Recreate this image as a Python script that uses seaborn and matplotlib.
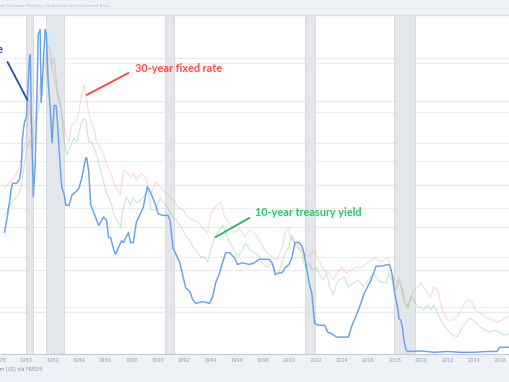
import matplotlib
matplotlib.use("Agg")
import matplotlib.pyplot as plt
import seaborn as sns
import pandas as pd

# ---- data (year, percent) ----
fed_funds = [
    (1978.34, 7.2), (1978.57, 8.2), (1978.87, 9.8), (1978.95, 10.1), (1979.25, 10.1),
    (1979.47, 10.3), (1979.62, 11.0), (1979.70, 12.7), (1979.85, 13.7), (1980.00, 14.0),
    (1980.08, 15.1), (1980.23, 17.5), (1980.30, 17.7), (1980.38, 14.0), (1980.53, 9.3),
    (1980.68, 11.3), (1980.83, 16.1), (1980.90, 18.9), (1981.05, 19.2), (1981.13, 14.9),
    (1981.28, 17.1), (1981.43, 19.2), (1981.51, 19.0), (1981.66, 16.1), (1981.81, 14.6),
    (1981.96, 12.5), (1982.11, 14.7), (1982.26, 14.7), (1982.33, 14.1), (1982.48, 12.2),
    (1982.63, 10.4), (1982.71, 9.8), (1982.86, 9.5), (1983.01, 8.8), (1983.24, 8.8),
    (1983.46, 9.4), (1983.76, 9.6), (1983.99, 9.8), (1984.21, 10.4), (1984.52, 11.6),
    (1984.59, 11.6), (1984.74, 10.8), (1984.89, 8.8), (1985.11, 8.4), (1985.35, 7.9),
    (1985.50, 7.6), (1985.87, 8.1), (1986.10, 7.9), (1986.25, 6.9), (1986.40, 6.9),
    (1986.63, 6.2), (1986.78, 5.9), (1987.00, 6.3), (1987.23, 6.7), (1987.38, 6.6),
    (1987.76, 7.2), (1987.91, 6.6), (1988.13, 6.6), (1988.36, 7.8), (1988.66, 8.3),
    (1988.89, 8.7), (1989.19, 9.9), (1989.41, 9.6), (1989.79, 8.9), (1990.02, 8.3),
    (1990.39, 8.2), (1990.77, 8.2), (1990.92, 7.9), (1991.14, 6.3), (1991.37, 5.9),
    (1991.67, 5.4), (1991.90, 4.6), (1992.12, 3.9), (1992.42, 3.7), (1992.65, 3.2),
    (1992.88, 3.0), (1993.40, 3.1), (1993.93, 3.0), (1994.16, 3.4), (1994.38, 4.2),
    (1994.68, 4.8), (1994.91, 5.4), (1995.14, 6.0), (1995.44, 6.0), (1995.81, 5.7),
    (1996.04, 5.3), (1996.42, 5.4), (1996.94, 5.3), (1997.32, 5.4), (1997.70, 5.6),
    (1998.45, 5.6), (1998.67, 5.4), (1998.83, 5.0), (1998.90, 4.7), (1999.20, 4.8),
    (1999.43, 4.8), (1999.65, 5.1), (1999.95, 5.3), (2000.18, 5.7), (2000.41, 6.6),
    (2000.71, 6.6), (2000.93, 6.4), (2001.08, 6.0), (2001.31, 5.0), (2001.54, 4.0),
    (2001.69, 3.6), (2001.91, 1.8), (2002.21, 1.7), (2002.67, 1.7), (2002.89, 1.3),
    (2003.19, 1.2), (2003.57, 1.0), (2004.47, 1.0), (2004.70, 1.6), (2005.23, 2.6),
    (2005.68, 3.6), (2006.20, 4.4), (2006.58, 5.2), (2006.96, 5.2), (2007.56, 5.3),
    (2007.71, 5.0), (2007.86, 4.4), (2007.94, 3.8), (2008.09, 3.2), (2008.24, 2.6),
    (2008.31, 2.1), (2008.46, 2.0), (2008.61, 1.4), (2008.69, 0.8), (2008.84, 0.24),
    (2008.99, 0.15), (2010.00, 0.18), (2011.00, 0.10), (2012.00, 0.15), (2013.00, 0.10),
    (2014.00, 0.10), (2015.00, 0.15), (2015.77, 0.15), (2015.95, 0.40), (2016.75, 0.40),
]

treasury_10y = [
    (1978.34, 8.11), (1978.57, 8.52), (1978.87, 8.94), (1979.32, 9.35), (1979.62, 9.88),
    (1979.85, 11.18), (1980.00, 12.07), (1980.23, 12.66), (1980.45, 12.07), (1980.68, 13.25),
    (1980.98, 14.73), (1981.20, 15.33), (1981.43, 16.51), (1981.58, 18.28), (1981.73, 18.17),
    (1981.88, 17.69), (1981.96, 17.10), (1982.11, 17.51), (1982.33, 15.74), (1982.64, 14.56),
    (1982.86, 12.66), (1983.09, 11.78), (1983.39, 12.37), (1983.61, 12.78), (1983.84, 12.54),
    (1984.14, 13.55), (1984.37, 13.96), (1984.52, 13.85), (1984.74, 12.54), (1984.97, 12.54),
    (1985.27, 11.95), (1985.50, 11.30), (1985.72, 10.71), (1986.02, 9.70), (1986.25, 9.29),
    (1986.48, 8.82), (1986.63, 8.34), (1986.85, 7.93), (1987.15, 7.51), (1987.23, 7.93),
    (1987.38, 8.70), (1987.61, 9.29), (1987.91, 8.82), (1988.13, 9.29), (1988.36, 8.94),
    (1988.66, 9.11), (1988.89, 9.29), (1989.26, 9.70), (1989.49, 8.52), (1989.79, 8.52),
    (1990.17, 9.23), (1990.39, 8.94), (1990.62, 8.82), (1990.92, 8.40), (1991.14, 8.11),
    (1991.37, 7.93), (1991.67, 7.63), (1991.90, 7.34), (1992.12, 6.92), (1992.42, 6.75),
    (1992.65, 6.33), (1992.88, 6.15), (1993.25, 5.74), (1993.55, 5.74), (1993.78, 5.44),
    (1994.01, 6.15), (1994.31, 6.92), (1994.68, 7.34), (1994.91, 7.63), (1995.14, 7.22),
    (1995.44, 6.57), (1995.81, 6.15), (1996.04, 5.74), (1996.42, 6.15), (1996.64, 6.57),
    (1997.02, 6.15), (1997.39, 5.98), (1997.77, 5.74), (1997.92, 5.38), (1998.30, 5.15),
    (1998.67, 5.38), (1998.90, 4.67), (1999.20, 4.85), (1999.43, 5.44), (1999.65, 5.98),
    (1999.95, 6.33), (2000.18, 7.04), (2000.33, 6.57), (2000.56, 6.33), (2000.93, 5.98),
    (2001.16, 5.15), (2001.46, 5.38), (2001.69, 4.97), (2002.06, 5.09), (2002.29, 4.67),
    (2002.59, 4.38), (2002.82, 4.79), (2003.04, 3.96), (2003.34, 3.49), (2003.57, 4.20),
    (2003.80, 4.38), (2004.17, 4.56), (2004.47, 3.96), (2004.85, 4.20), (2005.23, 4.38),
    (2005.60, 3.96), (2005.98, 4.38), (2006.36, 4.79), (2006.73, 4.38), (2006.96, 4.26),
    (2007.33, 4.20), (2007.56, 4.79), (2007.86, 4.20), (2008.09, 3.79), (2008.31, 4.50),
    (2008.46, 4.08), (2008.69, 3.08), (2008.99, 2.72), (2009.22, 3.37), (2009.44, 3.20),
    (2009.74, 2.78), (2009.97, 2.78), (2010.20, 2.60), (2010.50, 2.90), (2010.72, 2.60),
    (2010.95, 2.90), (2011.25, 2.43), (2011.48, 2.01), (2011.70, 1.72), (2012.00, 1.42),
    (2012.38, 1.12), (2012.76, 1.01), (2012.98, 1.42), (2013.36, 1.83), (2013.73, 2.13),
    (2014.11, 1.89), (2014.49, 1.60), (2014.86, 1.42), (2015.24, 1.30), (2015.62, 1.42),
    (2015.99, 1.24), (2016.37, 1.12), (2016.75, 1.24),
]

mortgage_30y = [
    (1978.34, 9.82), (1978.72, 10.18), (1979.10, 10.47), (1979.32, 10.77), (1979.70, 11.78),
    (1980.00, 12.66), (1980.23, 15.03), (1980.45, 12.96), (1980.68, 13.96), (1980.98, 15.62),
    (1981.20, 16.51), (1981.51, 17.69), (1981.81, 17.40), (1982.11, 16.33), (1982.33, 15.50),
    (1982.71, 14.14), (1983.01, 12.96), (1983.24, 12.54), (1983.46, 13.55), (1983.77, 13.73),
    (1983.99, 14.32), (1984.22, 15.50), (1984.37, 15.92), (1984.59, 14.91), (1984.89, 13.73),
    (1985.12, 13.37), (1985.35, 12.54), (1985.65, 12.19), (1985.87, 11.78), (1986.10, 11.18),
    (1986.40, 10.77), (1986.63, 10.18), (1986.85, 9.82), (1987.15, 9.41), (1987.38, 10.89),
    (1987.61, 10.77), (1987.91, 10.47), (1988.13, 10.71), (1988.36, 10.30), (1988.73, 10.71),
    (1989.04, 10.47), (1989.26, 9.88), (1989.49, 9.53), (1989.86, 10.18), (1990.17, 9.88),
    (1990.54, 9.59), (1990.92, 9.29), (1991.30, 8.99), (1991.52, 8.70), (1991.90, 8.52),
    (1992.27, 8.11), (1992.65, 7.93), (1993.03, 7.81), (1993.40, 7.46), (1993.78, 7.16),
    (1994.01, 8.34), (1994.38, 8.70), (1994.76, 8.99), (1995.06, 8.11), (1995.44, 7.75),
    (1995.81, 7.16), (1996.19, 7.46), (1996.57, 6.92), (1996.94, 7.34), (1997.32, 7.16),
    (1997.70, 6.75), (1998.15, 6.15), (1998.67, 5.74), (1999.05, 5.56), (1999.43, 6.33),
    (1999.65, 7.16), (1999.95, 7.51), (2000.03, 6.92), (2000.33, 6.75), (2000.71, 6.33),
    (2001.08, 5.98), (2001.46, 5.74), (2001.84, 6.15), (2002.21, 5.56), (2002.59, 4.97),
    (2002.97, 4.79), (2003.34, 4.38), (2003.57, 4.79), (2003.95, 5.15), (2004.32, 4.79),
    (2004.70, 4.97), (2005.08, 5.15), (2005.45, 5.09), (2005.98, 5.44), (2006.43, 5.68),
    (2006.96, 5.44), (2007.48, 5.74), (2007.71, 4.97), (2007.94, 4.50), (2008.24, 4.20),
    (2008.46, 4.08), (2008.69, 3.37), (2008.99, 2.78), (2009.22, 3.37), (2009.44, 3.79),
    (2009.74, 3.96), (2009.97, 4.20), (2010.20, 3.96), (2010.50, 3.61), (2010.72, 3.37),
    (2010.95, 3.96), (2011.25, 3.79), (2011.48, 3.02), (2011.70, 2.43), (2012.00, 2.01),
    (2012.38, 2.01), (2012.76, 2.19), (2013.13, 2.78), (2013.51, 3.20), (2013.89, 3.08),
    (2014.11, 2.60), (2014.49, 2.43), (2014.86, 2.19), (2015.39, 2.01), (2015.77, 1.89),
    (2016.14, 2.01), (2016.52, 2.19), (2016.75, 2.31),
]

recessions = [(1980.0, 1980.5), (1981.5, 1982.9), (1990.5, 1991.2),
              (2001.2, 2001.9), (2007.9, 2009.5)]
tick_years = list(range(1978, 2017, 2))
label_30y = "30-year fixed rate"
label_10y = "10-year treasury yield"
label_fed = "Federal funds rate"
source_text = "Sources: Freddie Mac; Board of Governors of the Federal Reserve System (US) via FRED\u00ae"
title_text = "30-Year Fixed Rate Mortgage Average in the United States, 10-Year Constant Maturity, Quoted on an Investment Basis"

def frame(pairs):
    return pd.DataFrame(pairs, columns=["year", "rate"])

df_fed = frame(fed_funds)
df_10 = frame(treasury_10y)
df_30 = frame(mortgage_30y)

sns.set_theme(style="white")
plt.rcParams["font.family"] = ["DejaVu Sans"]

W, H = 510, 382
fig = plt.figure(figsize=(W / 100, H / 100), dpi=100, facecolor="#eef2f7")
ax = fig.add_axes([0, 28 / H, 1, 339 / H])
ax.set_facecolor("white")

XMIN, XMAX = 1978.343, 2016.747
YMIN, YMAX = 0, 20.06
ax.set_xlim(XMIN, XMAX)
ax.set_ylim(YMIN, YMAX)

# grid lines (two overlaid chart grids)
for g in [2.5, 5, 7.5, 10, 12.5, 15, 17.5]:
    ax.axhline(g, color="#ebebeb", lw=0.9, zorder=0)
for g in [2.78, 5.74, 8.64, 11.42, 14.32, 17.22]:
    ax.axhline(g, color="#efefef", lw=0.9, zorder=0)

for a, b in recessions:
    ax.axvspan(a, b, facecolor="#dfe3e8", edgecolor="#d3d7dc", lw=0.7, alpha=0.85, zorder=1)

sns.lineplot(data=df_30, x="year", y="rate", ax=ax, color="#f08a8a", lw=0.8,
             alpha=0.32, estimator=None, sort=False, zorder=2)
sns.lineplot(data=df_10, x="year", y="rate", ax=ax, color="#5cb874", lw=0.8,
             alpha=0.32, estimator=None, sort=False, zorder=2)
sns.lineplot(data=df_fed, x="year", y="rate", ax=ax, color="#66a2ec", lw=1.05,
             estimator=None, sort=False, zorder=3)

# spines / ticks
for s in ["left", "right"]:
    ax.spines[s].set_visible(False)
ax.spines["top"].set_color("#dadee3")
ax.spines["top"].set_linewidth(1.0)
ax.spines["bottom"].set_color("#c9cdd3")
ax.spines["bottom"].set_linewidth(0.8)
ax.set_yticks([])
ax.set_xticks(tick_years)
ax.set_xticklabels([str(y) for y in tick_years], fontsize=3.6, color="#9a9ea5")
ax.tick_params(axis="x", length=0, pad=3)
ax.set_xlabel("")
ax.set_ylabel("")

# annotations
ax.annotate("", xy=(1984.59, 15.33), xytext=(1987.76, 16.63),
            arrowprops=dict(arrowstyle="-", color="#ff4040", lw=1.3, shrinkA=0, shrinkB=0),
            zorder=5)
ax.text(1988.28, 16.92, label_30y, color="#ff4a4a", fontsize=7.8, fontweight="bold",
        family=["Lato", "DejaVu Sans"], ha="left", va="center", zorder=5)

ax.annotate("", xy=(1994.38, 6.92), xytext=(1996.94, 8.05),
            arrowprops=dict(arrowstyle="-", color="#22b85a", lw=1.3, shrinkA=0, shrinkB=0),
            zorder=5)
ax.text(1997.39, 8.40, label_10y, color="#2ec26a", fontsize=7.8, fontweight="bold",
        family=["Lato", "DejaVu Sans"], ha="left", va="center", zorder=5)

ax.annotate("", xy=(1980.08, 15.03), xytext=(1978.57, 17.28),
            arrowprops=dict(arrowstyle="-", color="#1f50a8", lw=1.3, shrinkA=0, shrinkB=0),
            zorder=5)
ax.text(1978.22, 17.99, label_fed, color="#1f50a8", fontsize=7.8, fontweight="bold",
        family=["Lato", "DejaVu Sans"], ha="right", va="center", zorder=5)

fig.text(110 / W, 1 - 6 / H, title_text, fontsize=3.0, color="#b9bdc4",
         ha="right", va="center")
fig.text(43 / W, 1 - 369 / H, source_text, fontsize=3.4, color="#8d9199",
         ha="right", va="center")

fig.savefig("out.png", dpi=100, facecolor=fig.get_facecolor())
